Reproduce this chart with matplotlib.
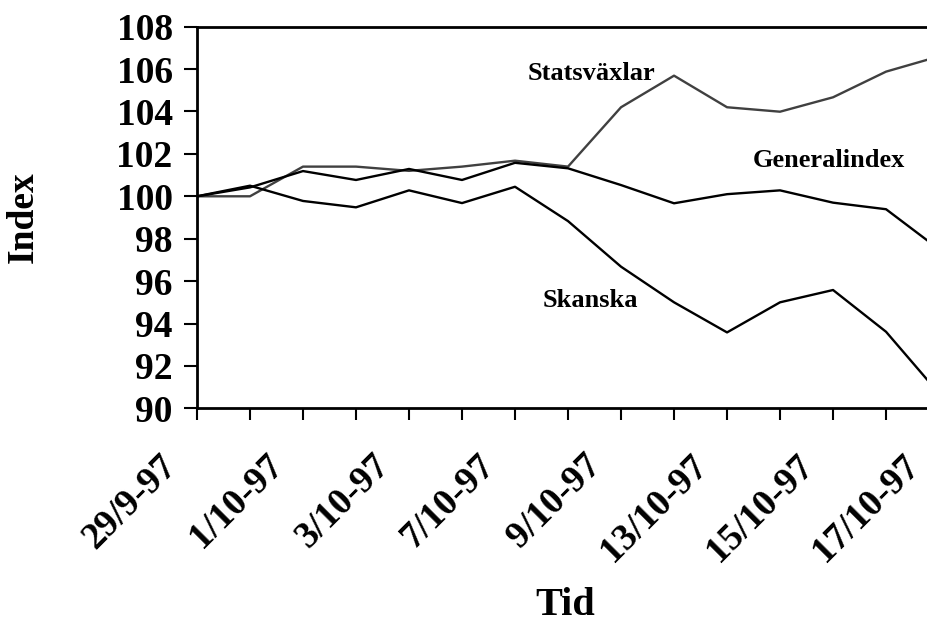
import matplotlib
matplotlib.use("Agg")
import matplotlib.pyplot as plt
import matplotlib.transforms as mtransforms

dates = ["29/9-97", "30/9-97", "1/10-97", "2/10-97", "3/10-97", "6/10-97", "7/10-97",
         "8/10-97", "9/10-97", "10/10-97", "13/10-97", "14/10-97", "15/10-97",
         "16/10-97", "17/10-97"]
statsvaxlar = [100.0, 100.0, 101.4, 101.4, 101.2, 101.4, 101.68, 101.4, 104.2,
               105.69, 104.2, 103.99, 104.67, 105.88, 106.6]
generalindex = [100.0, 100.42, 101.19, 100.77, 101.29, 100.77, 101.58, 101.32, 100.53,
                99.67, 100.1, 100.28, 99.7, 99.39, 97.5]
skanska = [100.0, 100.5, 99.78, 99.48, 100.28, 99.68, 100.45, 98.83, 96.68,
           95.0, 93.58, 95.0, 95.58, 93.61, 90.7]
yticks = [90, 92, 94, 96, 98, 100, 102, 104, 106, 108]
shown_labels = {0: "29/9-97", 2: "1/10-97", 4: "3/10-97", 6: "7/10-97",
                8: "9/10-97", 10: "13/10-97", 12: "15/10-97", 14: "17/10-97"}

font = "Liberation Serif"
plt.rcParams["font.family"] = [font, "DejaVu Serif"]
plt.rcParams["font.weight"] = "bold"

fig = plt.figure(figsize=(9.27, 6.25), dpi=100)
ax = fig.add_axes([0.2125, 0.3467, 1.0130 - 0.2125, 0.9573 - 0.3467])

x = list(range(len(dates)))
ax.plot(x, statsvaxlar, color="#404040", lw=1.7)
ax.plot(x, generalindex, color="black", lw=1.7)
ax.plot(x, skanska, color="black", lw=1.7)

ax.set_xlim(0, len(dates) - 1)
ax.set_ylim(90, 108)
ax.set_yticks(yticks)
ax.set_yticklabels([str(v) for v in yticks], fontsize=27, fontweight="bold")

ax.set_xticks(x)
ax.set_xticklabels([shown_labels.get(i, "") for i in x], rotation=45,
                   ha="right", va="top", fontsize=27, fontweight="bold")

ax.tick_params(axis="y", direction="out", length=9.5, width=1.5, pad=8)
ax.tick_params(axis="x", direction="out", length=8.5, width=1.5, pad=20)

offset = mtransforms.ScaledTranslation(-13 / 100, 0, fig.dpi_scale_trans)
for lbl in ax.get_xticklabels():
    lbl.set_transform(lbl.get_transform() + offset)

for side in ["left", "bottom", "top"]:
    ax.spines[side].set_linewidth(2)
ax.spines["right"].set_visible(False)

ax.set_ylabel("Index", fontsize=27, fontweight="bold", labelpad=0)
ax.yaxis.set_label_coords((41 - 197) / (939 - 197), 0.5)
ax.set_xlabel("Tid", fontsize=29, fontweight="bold")
ax.xaxis.label.set_va("bottom")
ax.xaxis.set_label_coords((565 - 197) / (939 - 197), (408.3 - 624) / (408.3 - 26.7))

ax.text(6.23, 105.8, "Statsväxlar", fontsize=19, fontweight="bold", va="center", ha="left")
ax.text(10.49, 101.7, "Generalindex", fontsize=19, fontweight="bold", va="center", ha="left")
ax.text(6.53, 95.1, "Skanska", fontsize=19, fontweight="bold", va="center", ha="left")

fig.savefig("out.png", dpi=100)
